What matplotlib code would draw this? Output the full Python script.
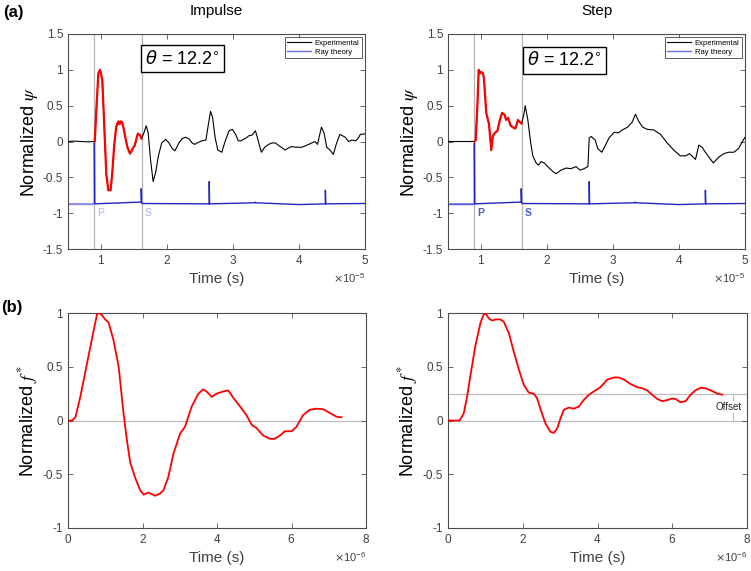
import numpy as np
import matplotlib
matplotlib.use("Agg")
import matplotlib.pyplot as plt

plt.rcParams['font.family'] = ['Liberation Sans', 'DejaVu Sans']
plt.rcParams['axes.unicode_minus'] = False

# ---- data (top: time in units of 1e-5 s, bottom: 1e-6 s) ----
T_TOP = 1e-5
T_BOT = 1e-6
t_p = 0.90
t_s = 1.615
theta_txt = r'$\theta$ = 12.2$^{\circ}$'

imp_t = [0.5, 0.6, 0.7, 0.8, 0.905, 0.93, 0.96, 0.985, 1.0, 1.02, 1.05, 1.08, 1.11, 1.145,
         1.17, 1.2, 1.23, 1.26, 1.28, 1.30, 1.32, 1.35, 1.37, 1.40, 1.44, 1.47, 1.49, 1.51,
         1.54, 1.56, 1.59, 1.615,
         1.65, 1.685, 1.715, 1.75, 1.79, 1.83, 1.87, 1.92, 1.98, 2.03, 2.08, 2.12, 2.18, 2.23,
         2.28, 2.33, 2.38, 2.42, 2.48, 2.53, 2.59, 2.62, 2.66, 2.69, 2.73, 2.77, 2.83, 2.88,
         2.94, 2.99, 3.04, 3.08, 3.12, 3.16, 3.20, 3.24, 3.29, 3.34, 3.37, 3.43, 3.48, 3.54,
         3.59, 3.64, 3.70, 3.79, 3.84, 3.89, 3.95, 4.04, 4.10, 4.17, 4.24, 4.28, 4.31, 4.34,
         4.38, 4.42, 4.47, 4.52, 4.57, 4.62, 4.66, 4.70, 4.75, 4.80, 4.86, 4.90, 4.93, 4.97, 5.0]
imp_v = [0.0, 0.005, 0.0, -0.005, 0.0, 0.45, 0.95, 1.0, 0.95, 0.85, 0.2, -0.45, -0.68, -0.68,
         -0.45, -0.05, 0.2, 0.28, 0.24, 0.28, 0.27, 0.15, 0.05, -0.08, -0.17, -0.12, -0.08, -0.06,
         0.05, 0.11, 0.09, 0.04,
         0.12, 0.22, 0.12, -0.25, -0.56, -0.42, -0.2, -0.02, 0.03, -0.02, -0.1, -0.13, -0.02, 0.04,
         0.06, 0.04, -0.02, -0.04, -0.01, 0.01, 0.02, 0.2, 0.42, 0.34, 0.05, -0.12, -0.15, 0.0,
         0.15, 0.17, 0.1, 0.01, 0.01, 0.03, 0.05, 0.08, 0.09, 0.15, 0.05, -0.15, -0.08, -0.04,
         -0.02, -0.02, -0.06, -0.12, -0.09, -0.07, -0.08, -0.08, -0.06, -0.03, 0.0, -0.04, 0.08, 0.2,
         0.12, -0.08, -0.12, -0.18, -0.02, 0.1, 0.08, 0.06, 0.0, 0.02, 0.01, 0.05, 0.1, 0.1, 0.11]

step_t = [0.5, 0.7, 0.90, 0.92, 0.945, 0.965, 0.985, 1.005, 1.03, 1.045, 1.065, 1.08, 1.105,
          1.12, 1.14, 1.155, 1.18, 1.21, 1.25, 1.28, 1.32, 1.36, 1.38, 1.41, 1.45, 1.48, 1.52,
          1.56, 1.59, 1.615,
          1.65, 1.67, 1.71, 1.75, 1.785, 1.835, 1.87, 1.91, 1.96, 2.01, 2.09, 2.14, 2.21, 2.29,
          2.36, 2.44, 2.5, 2.56, 2.62, 2.64, 2.67, 2.73, 2.77, 2.83, 2.87, 2.94, 3.02, 3.08,
          3.14, 3.22, 3.29, 3.34, 3.39, 3.45, 3.52, 3.62, 3.72, 3.82, 3.92, 4.02, 4.1, 4.16,
          4.25, 4.3, 4.35, 4.4, 4.48, 4.52, 4.6, 4.68, 4.75, 4.83, 4.9, 4.95, 5.0]
step_v = [0.0, 0.0, 0.0, 0.02, 0.5, 1.0, 0.95, 0.97, 0.95, 0.88, 0.6, 0.4, 0.3,
          0.25, 0.05, -0.12, 0.08, 0.12, 0.15, 0.28, 0.40, 0.37, 0.3, 0.33, 0.22, 0.2, 0.18,
          0.3, 0.27, 0.25,
          0.38, 0.5, 0.3, 0.0, -0.2, -0.3, -0.33, -0.28, -0.3, -0.35, -0.42, -0.45, -0.4, -0.37,
          -0.38, -0.35, -0.4, -0.38, -0.35, 0.05, 0.07, 0.02, -0.1, -0.15, -0.08, 0.05, 0.13, 0.12,
          0.16, 0.2, 0.27, 0.38, 0.28, 0.2, 0.17, 0.16, 0.1, -0.02, -0.12, -0.2, -0.2, -0.17,
          -0.25, -0.05, -0.08, -0.15, -0.25, -0.3, -0.22, -0.17, -0.15, -0.15, -0.1, -0.02, 0.06]

ray_t = [0.5, 0.90, 0.90, 0.905, 1.61, 1.61, 1.615, 1.62, 2.64, 2.64, 2.645, 3.33, 3.335,
         3.34, 4.0, 4.40, 4.40, 4.405, 5.0]
ray_v = [-0.875, -0.875, -0.02, -0.87, -0.845, -0.66, -0.845, -0.865, -0.87, -0.56, -0.87,
         -0.855, -0.845, -0.855, -0.88, -0.87, -0.68, -0.87, -0.865]

fimp_t = [0, 0.107, 0.2, 0.33, 0.51, 0.69, 0.78, 0.84, 0.91, 1.0, 1.09, 1.22, 1.36, 1.49,
          1.58, 1.67, 1.80, 1.94, 2.03, 2.16, 2.34, 2.47, 2.56, 2.69, 2.83, 3.01, 3.14, 3.32,
          3.5, 3.63, 3.72, 3.86, 3.99, 4.17, 4.3, 4.44, 4.62, 4.79, 4.93, 5.06, 5.24, 5.42,
          5.55, 5.69, 5.82, 6.0, 6.13, 6.31, 6.49, 6.67, 6.85, 7.03, 7.21, 7.34]
fimp_v = [0, 0.0, 0.03, 0.22, 0.53, 0.84, 0.99, 1.0, 0.98, 0.94, 0.91, 0.75, 0.5, 0.07,
          -0.18, -0.39, -0.53, -0.65, -0.69, -0.67, -0.70, -0.68, -0.65, -0.53, -0.31, -0.12, -0.06, 0.13,
          0.25, 0.29, 0.27, 0.22, 0.25, 0.27, 0.28, 0.21, 0.13, 0.05, -0.04, -0.07, -0.14, -0.17,
          -0.17, -0.14, -0.10, -0.10, -0.06, 0.05, 0.10, 0.11, 0.105, 0.07, 0.035, 0.03]

fstep_t = [0, 0.31, 0.42, 0.51, 0.6, 0.73, 0.87, 0.96, 1.02, 1.09, 1.18, 1.27, 1.4, 1.49,
           1.63, 1.76, 1.89, 2.03, 2.16, 2.29, 2.38, 2.47, 2.61, 2.74, 2.83, 2.92, 3.01, 3.1,
           3.23, 3.37, 3.5, 3.63, 3.77, 3.9, 4.08, 4.26, 4.44, 4.57, 4.71, 4.88, 5.06, 5.2,
           5.33, 5.46, 5.6, 5.73, 5.87, 6.0, 6.09, 6.22, 6.36, 6.49, 6.62, 6.76, 6.89, 7.03,
           7.21, 7.34]
fstep_v = [0, 0, 0.065, 0.22, 0.42, 0.69, 0.91, 0.99, 0.99, 0.95, 0.93, 0.94, 0.94, 0.92,
           0.81, 0.64, 0.48, 0.33, 0.26, 0.25, 0.21, 0.11, -0.03, -0.105, -0.115, -0.075, 0.02, 0.10,
           0.12, 0.11, 0.13, 0.19, 0.24, 0.27, 0.31, 0.38, 0.40, 0.40, 0.38, 0.34, 0.31, 0.30,
           0.28, 0.24, 0.20, 0.18, 0.19, 0.205, 0.20, 0.17, 0.18, 0.24, 0.28, 0.305, 0.30, 0.28,
           0.25, 0.24]
offset_val = 0.245
offset_x = 7.62

AX_COL = '#4d4d4d'
TXT_COL = '#404040'

fig = plt.figure(figsize=(7.51, 5.71), dpi=100)
W, H = 751, 571


def make_ax(l, t, r, b):
    ax = fig.add_axes([l / W, 1 - b / H, (r - l) / W, (b - t) / H])
    for s in ax.spines.values():
        s.set_color(AX_COL)
        s.set_linewidth(0.8)
    ax.tick_params(direction='in', top=True, right=True, length=3.5, width=0.6,
                   color=AX_COL, labelcolor=TXT_COL, labelsize=8.5)
    return ax


def style_x(ax, xlabel):
    ax.ticklabel_format(style='sci', axis='x', scilimits=(0, 0), useMathText=True)
    ax.xaxis.get_offset_text().set_fontsize(8)
    ax.xaxis.get_offset_text().set_color(TXT_COL)
    ax.set_xlabel(xlabel, fontsize=11, color=TXT_COL, labelpad=4)


def top_panel(ax, t, v, pre_col, lab_col, lab_weight, box_x, box_y):
    t = np.array(t) * T_TOP
    v = np.array(v)
    rt = np.array(ray_t) * T_TOP
    rv = np.array(ray_v)
    ax.axvline(t_p * T_TOP, color='#b4b4b4', lw=0.9, zorder=1)
    ax.axvline(t_s * T_TOP, color='#b4b4b4', lw=0.9, zorder=1)
    ax.plot(t, v, color='black', lw=0.8, label='Experimental', zorder=3)
    m = (t >= t_p * T_TOP - 1e-12) & (t <= t_s * T_TOP + 1e-12)
    ax.plot(t[m], v[m], color='red', lw=1.6, zorder=4)
    ax.plot(rt, rv, color='#2323c0', lw=1.0, zorder=2)
    pm = rt <= t_p * T_TOP
    ax.plot(rt[pm][:2], rv[pm][:2], color=pre_col, lw=1.0, zorder=2)
    ax.plot([], [], color='#6a6ae0', lw=1.0, label='Ray theory')
    for x, s in [(t_p, 'P'), (t_s, 'S')]:
        ax.annotate(s, xy=(x * T_TOP, -0.93), xytext=(2, 0), textcoords='offset points',
                    ha='left', va='top', fontsize=7.5, color=lab_col, fontweight=lab_weight)
    ax.set_xlim(0.5 * T_TOP, 5 * T_TOP)
    ax.set_ylim(-1.5, 1.5)
    ax.set_yticks(np.arange(-1.5, 1.51, 0.5))
    ax.set_yticklabels(['-1.5', '-1', '-0.5', '0', '0.5', '1', '1.5'])
    ax.set_xticks(np.arange(1, 6) * T_TOP)
    style_x(ax, 'Time (s)')
    ax.set_ylabel(r'Normalized $\psi$', fontsize=13, color='black', labelpad=2)
    ax.yaxis.label.set_math_fontfamily('stix')
    leg = ax.legend(loc='upper right', fontsize=5.5, frameon=True, fancybox=False,
                    edgecolor='#333333', handlelength=3.2, borderaxespad=0.45,
                    borderpad=0.3, labelspacing=0.15, handletextpad=0.4)
    leg.get_frame().set_linewidth(0.7)
    ax.text(box_x, box_y, theta_txt, transform=ax.transAxes, ha='center', va='center',
            fontsize=13, color='black',
            bbox=dict(boxstyle='square,pad=0.25', fc='white', ec='black', lw=1.0))


def bottom_panel(ax, t, v):
    ax.axhline(0, color='#bdbdbd', lw=0.9, zorder=1)
    ax.plot(np.array(t) * T_BOT, v, color='red', lw=1.3, zorder=3)
    ax.set_xlim(0, 8 * T_BOT)
    ax.set_ylim(-1, 1)
    ax.set_yticks(np.arange(-1, 1.01, 0.5))
    ax.set_yticklabels(['-1', '-0.5', '0', '0.5', '1'])
    ax.set_xticks(np.arange(0, 9, 2) * T_BOT)
    style_x(ax, 'Time (s)')
    ax.set_ylabel(r'Normalized $f^*$', fontsize=13, color='black', labelpad=2)
    ax.yaxis.label.set_math_fontfamily('stix')


ax1 = make_ax(68, 34, 365, 249)
top_panel(ax1, imp_t, imp_v, '#8c8ce6', '#aab0ee', 'normal', 0.386, 0.885)
ax2 = make_ax(448, 34, 745, 249)
top_panel(ax2, step_t, step_v, '#5a5adc', '#4a5ad6', 'bold', 0.392, 0.879)

ax3 = make_ax(68, 313, 366, 528)
bottom_panel(ax3, fimp_t, fimp_v)
ax4 = make_ax(448, 313, 747, 528)
bottom_panel(ax4, fstep_t, fstep_v)
ax4.axhline(offset_val, color='#bdbdbd', lw=0.9, zorder=1)
ax4.plot([offset_x * T_BOT, offset_x * T_BOT], [0, offset_val], color='#bdbdbd', lw=0.8, zorder=1)
ax4.text(offset_x * T_BOT - 0.12 * T_BOT, offset_val / 2, 'Offset', ha='center', va='center',
         fontsize=7, color='#222222',
         bbox=dict(boxstyle='square,pad=0.1', fc='white', ec='none'))

# titles and panel letters
fig.text((68 + 365) / 2 / W, 1 - 11 / H, 'Impulse', ha='center', va='center', fontsize=11)
fig.text((448 + 745) / 2 / W, 1 - 11 / H, 'Step', ha='center', va='center', fontsize=11)
fig.text(3 / W, 1 - 13 / H, '(a)', ha='left', va='center', fontsize=12, fontweight='bold')
fig.text(1 / W, 1 - 307 / H, '(b)', ha='left', va='center', fontsize=12, fontweight='bold')

fig.savefig('out.png', dpi=100)
